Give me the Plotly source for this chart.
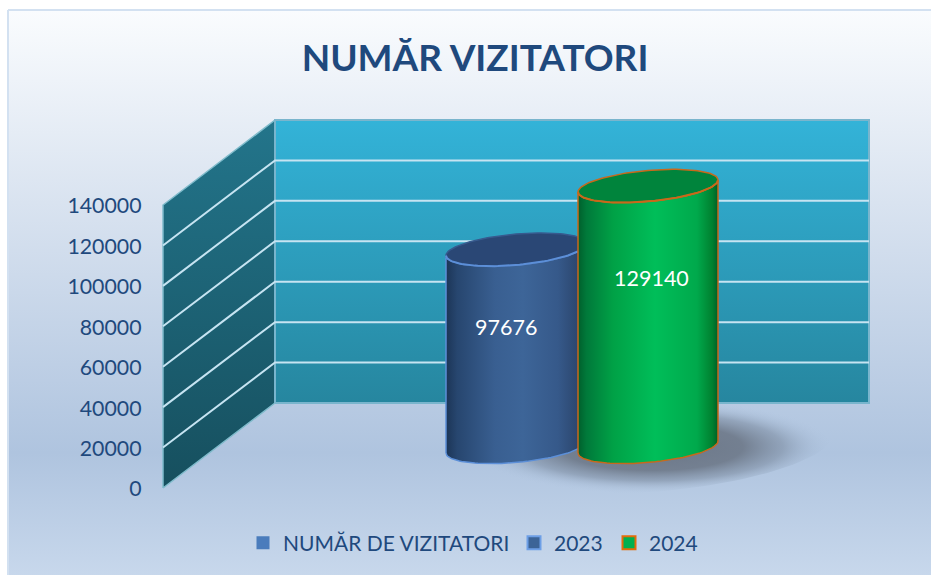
import numpy as np
import plotly.graph_objects as go

# ---- data ----
TITLE = "NUMĂR VIZITATORI"
SERIES_NAMES = ["2023", "2024"]
VISITORS = [97676, 129140]
LEGEND_HEADER = "NUMĂR DE VIZITATORI"
TICKS = [0, 20000, 40000, 60000, 80000, 100000, 120000, 140000]

# ---- layout geometry (pixels of the 931x575 window) ----
W, H = 931, 575
FRAME_X, FRAME_Y = 8, 10
Y0_PX, PX_PER_UNIT = 488.0, 283.0 / 140000
def v(py):
    return (Y0_PX - np.asarray(py, dtype=float)) / PX_PER_UNIT
def fx(px):
    return px / W
def fy(py):
    return 1 - py / H

FRONT_X, BACK_X, RIGHT_X = 163, 275, 869
DEPTH_UNITS = 85 / PX_PER_UNIT
TOP = TICKS[-1]
CENTERS = [516, 648]
RX, RY, SHEAR = 70, 15.5, 6
BASE = 41 / PX_PER_UNIT
T = np.linspace(0, 2 * np.pi, 121)
ARC = np.linspace(np.pi, 0, 61)
FONT = "Lato"
INK = "#1F497D"

STYLES = [
    dict(body=[[0, "#1C3556"], [0.08, "#27466F"], [0.35, "#395F91"], [0.55, "#3D6598"],
               [0.8, "#36598A"], [1, "#283F63"]], top="#2A4775", edge="#5C8FD8", back="#375A8E"),
    dict(body=[[0, "#005F2C"], [0.06, "#00793A"], [0.25, "#00A146"], [0.55, "#00BE59"],
               [0.85, "#00A94C"], [0.96, "#00802F"], [1, "#005F26"]], top="#00843C", edge="#C8691B", back="#C8691B"),
]

fig = go.Figure()
def poly(x, y, line=None, width=0, **kw):
    fig.add_trace(go.Scatter(x=list(x), y=list(y), mode="lines", hoverinfo="skip", showlegend=False,
                             line=dict(color=line or "rgba(0,0,0,0)", width=width), **kw))

# chart area background (vertical gradient: stop 0 is at the bottom)
poly([FRAME_X, W + 3, W + 3, FRAME_X, FRAME_X], v([FRAME_Y, FRAME_Y, H + 3, H + 3, FRAME_Y]),
     line="#D3E1F1", width=2, fill="toself",
     fillgradient=dict(type="vertical", colorscale=[[0, "#C8D8EC"], [0.22, "#AFC4DF"], [0.66, "#D9E3F0"], [1, "#FAFCFE"]]))

# walls
poly([FRONT_X, BACK_X, BACK_X, FRONT_X, FRONT_X], [0, DEPTH_UNITS, TOP + DEPTH_UNITS, TOP, 0],
     line="#7FBBCB", width=1.5, fill="toself",
     fillgradient=dict(type="vertical", colorscale=[[0, "#164F5E"], [1, "#23758B"]]))
poly([BACK_X, RIGHT_X, RIGHT_X, BACK_X, BACK_X],
     [DEPTH_UNITS, DEPTH_UNITS, TOP + DEPTH_UNITS, TOP + DEPTH_UNITS, DEPTH_UNITS],
     line="#79B5CD", width=2, fill="toself",
     fillgradient=dict(type="vertical", colorscale=[[0, "#26869F"], [1, "#33B3D8"]]))

# gridlines
for t in TICKS[1:-1]:
    poly([FRONT_X, BACK_X, RIGHT_X], [t, t + DEPTH_UNITS, t + DEPTH_UNITS], line="#C6E4F2", width=2)

# floor shadow
sx = 652 + 182 * np.cos(T)
sy = v(447 + 45 * np.sin(T) - 14 * np.cos(T))
poly(sx, sy, fill="toself",
     fillgradient=dict(type="radial", colorscale=[[0, "rgba(95,105,120,0.85)"], [0.5, "rgba(100,110,125,0.8)"],
                                                  [0.72, "rgba(115,130,150,0.5)"], [0.88, "rgba(150,170,195,0.2)"],
                                                  [1, "rgba(175,196,223,0)"]]))

# cylinders
for cx, val, st in zip(CENTERS, VISITORS, STYLES):
    lx = cx + RX * np.cos(ARC)
    low_px = RY * np.sin(ARC) - SHEAR * np.cos(ARC)
    low = -low_px / PX_PER_UNIT
    bx = np.concatenate([lx, lx[::-1]])
    by = np.concatenate([BASE + low, (BASE + val + low)[::-1]])
    poly(np.append(bx, bx[0]), np.append(by, by[0]), line=st["edge"], width=1.5, fill="toself",
         fillgradient=dict(type="horizontal", colorscale=st["body"]))
    tx = cx + RX * np.cos(T)
    ty = BASE + val - (RY * np.sin(T) - SHEAR * np.cos(T)) / PX_PER_UNIT
    poly(tx, ty, line=st["back"], width=1.5, fill="toself", fillcolor=st["top"])
    poly(lx, BASE + val + low, line=st["edge"], width=2)

# legend entries
for name, color, edge, width, lw in [(LEGEND_HEADER, "#4A7CBC", "#4A7CBC", 0, 226),
                                     (SERIES_NAMES[0], "#3C6497", "#6D9FE6", 2, 50),
                                     (SERIES_NAMES[1], "#00B050", "#E36C0A", 2, 50)]:
    fig.add_trace(go.Scatter(x=[None], y=[None], mode="markers", name=name, hoverinfo="skip", legendwidth=lw,
                             marker=dict(symbol="square", size=13, color=color, line=dict(color=edge, width=width))))

# data labels
LABEL_X = [505.5, 651.5]
LABEL_PY = [327, 278]
annotations = [dict(x=x, y=float(v(py)), text=str(val), showarrow=False, xanchor="center", yanchor="middle",
                    font=dict(family=FONT, size=21.5, color="white"))
               for x, py, val in zip(LABEL_X, LABEL_PY, VISITORS)]

fig.update_layout(
    width=W, height=H, margin=dict(l=0, r=0, t=0, b=0), paper_bgcolor="white", plot_bgcolor="rgba(0,0,0,0)",
    title=dict(text=TITLE, x=fx(475), y=fy(58), xanchor="center", yanchor="middle", xref="paper", yref="paper",
               font=dict(family=FONT, size=37, color=INK, weight=700)),
    xaxis=dict(range=[0, W], visible=False, fixedrange=True),
    yaxis=dict(range=[float(v(H)), float(v(0))], anchor="free", position=fx(141.5), side="left",
               tickmode="array", tickvals=TICKS, ticktext=[str(t) for t in TICKS], ticks="", showgrid=False,
               zeroline=False, showline=False, automargin=False, fixedrange=True, ticklabelshift=1,
               tickfont=dict(family=FONT, size=21.3, color=INK)),
    legend=dict(orientation="h", x=fx(243), y=fy(543), xanchor="left", yanchor="middle",
                bgcolor="rgba(0,0,0,0)", font=dict(family=FONT, size=21, color=INK), itemclick=False, itemdoubleclick=False),
    annotations=annotations,
)
# drop the browser's default page margin so that the figure fills the window exactly
fig.write_html("out.html", config={"displayModeBar": False},
               post_script="document.body.style.margin='0';document.documentElement.style.overflow='hidden';")
